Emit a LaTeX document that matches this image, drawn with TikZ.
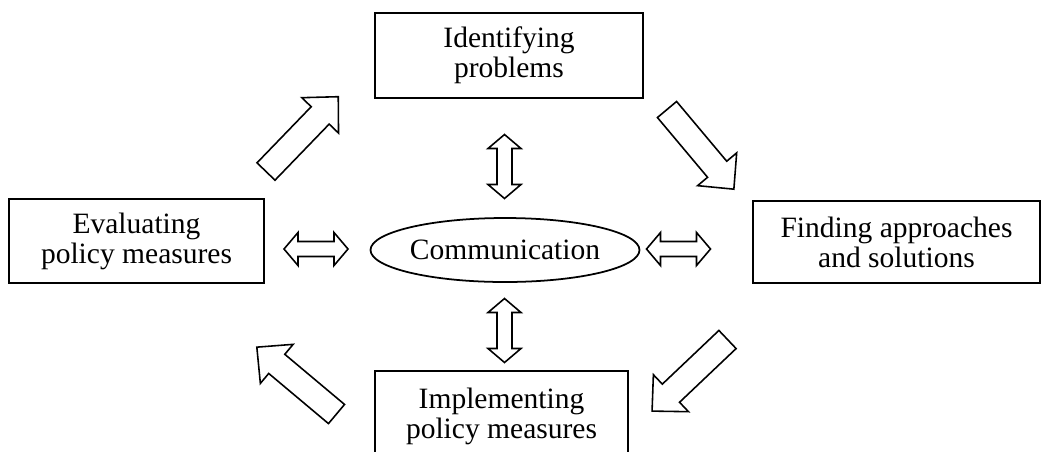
\documentclass[tikz,border=0pt]{standalone}
\usepackage{fontspec}
\setmainfont{Liberation Serif}
\usetikzlibrary{shapes.geometric}

\begin{document}
\begin{tikzpicture}[x=0.02cm,y=-0.02cm,
	font=\fontsize{16.8}{17}\selectfont,
	stage/.style={draw,line width=1.1pt,align=center,inner sep=0pt},
	hub/.style={draw,ellipse,line width=1pt,inner sep=0pt,minimum width=5.28cm,minimum height=1.28cm},
	outline/.style={draw,line width=0.9pt,line join=miter,fill=white},
	pics/bigarrow/.style={code={
		\path[outline] (0,-12.5) -- (78,-12.5) -- (78,-25.5) -- (104,0)
			-- (78,25.5) -- (78,12.5) -- (0,12.5) -- cycle;}},
	pics/twoway/.style={code={
		\path[outline] (-32,0) -- (-18,-16.5) -- (-18,-7.5) -- (18,-7.5) -- (18,-16.5)
			-- (32,0) -- (18,16.5) -- (18,7.5) -- (-18,7.5) -- (-18,16.5) -- cycle;}}]
	\useasboundingbox (0,0) rectangle (1050,451);
	\clip (0,0) rectangle (1050,451);

	% the four stages
	\node[stage,minimum width=5.36cm,minimum height=1.7cm] (ident) at (509,55.5) {Identifying\\problems};
	\node[stage,minimum width=5.74cm,minimum height=1.64cm] (approach) at (896.5,242) {Finding approaches\\and solutions};
	\node[stage,minimum width=5.06cm,minimum height=1.8cm] (implement) at (501.5,416) {Implementing\\policy measures};
	\node[stage,minimum width=5.1cm,minimum height=1.68cm] (evaluate) at (136.5,241) {Evaluating\\policy measures};

	% centre
	\node[hub] (comm) at (505,250) {Communication};

	% cycle arrows
	\pic[rotate=46] at (266,171.5) {bigarrow};
	\pic[rotate=-50] at (667,109.5) {bigarrow};
	\pic[rotate=223.5] at (727.5,339.5) {bigarrow};
	\pic[rotate=140] at (336.5,414) {bigarrow};

	% links with communication
	\pic[rotate=90] at (504.5,166.5) {twoway};
	\pic[rotate=90] at (504.5,330.5) {twoway};
	\pic at (316,249) {twoway};
	\pic at (678.5,249) {twoway};

\end{tikzpicture}
\end{document}
